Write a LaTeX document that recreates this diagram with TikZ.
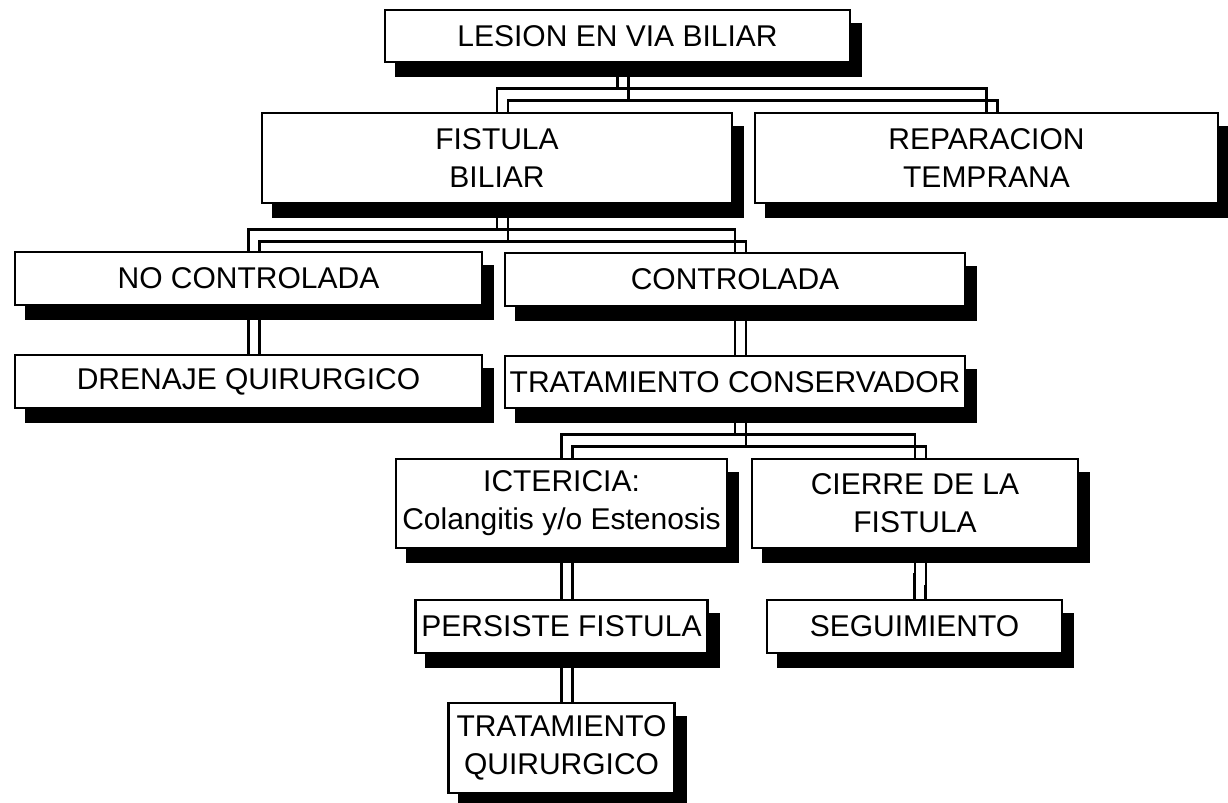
\documentclass[tikz,border=0pt]{standalone}
\usepackage{fontspec}
\setmainfont{Liberation Sans}
\usetikzlibrary{backgrounds}

\tikzset{
  caja/.style 2 args={draw, line width=2pt, fill=white, inner sep=0pt, align=center,
    minimum width=#1*0.75pt, minimum height=#2*0.75pt,
    font=\fontsize{22.5}{28.5}\selectfont},
  conector/.style={line width=1.9pt}
}
% parent to child: the line and its copy pushed right and down
\newcommand\enlace[2]{%
  \draw[conector] (#1.south) -- ++(0,25) -| (#2.north);
  \draw[conector] ([shift={(11,12)}]#1.south) -- ++(0,25) -| ([shift={(11,12)}]#2.north);
}

\begin{document}
\begin{tikzpicture}[x=0.75pt,y=0.75pt,yscale=-1,xscale=1]
\useasboundingbox (0,0) rectangle (1228,803);

% Text Node
\draw (617.5,36) node [caja={465}{52}] (lesion) {LESION EN VIA BILIAR};
% Text Node
\draw (497,158) node [caja={470}{90}] (fistula) {FISTULA\\BILIAR};
% Text Node
\draw (986.5,158) node [caja={463}{90}] (reparacion) {REPARACION\\TEMPRANA};
% Text Node
\draw (248.5,278.5) node [caja={467}{53}] (nocontrolada) {NO CONTROLADA};
% Text Node
\draw (735,279.5) node [caja={460}{53}] (controlada) {CONTROLADA};
% Text Node
\draw (248.5,381.5) node [caja={467}{53}] (drenaje) {DRENAJE QUIRURGICO};
% Text Node
\draw (735,382) node [caja={460}{52}] (conservador) {TRATAMIENTO CONSERVADOR};
% Text Node
\draw (561.5,503.5) node [caja={331}{89}] (ictericia) {ICTERICIA:\\Colangitis y/o Estenosis};
% Text Node
\draw (915,503.5) node [caja={326}{89}] (cierre) {CIERRE DE LA\\FISTULA};
% Text Node
\draw (561.5,626.5) node [caja={292}{53}] (persiste) {PERSISTE FISTULA};
% Text Node
\draw (914.5,626.5) node [caja={295}{53}] (seguimiento) {SEGUIMIENTO};
% Text Node
\draw (561.5,748) node [caja={226}{90}] (quirurgico) {TRATAMIENTO\\QUIRURGICO};

\begin{scope}[on background layer]
%Shapes: shadows
\foreach \n in {lesion,fistula,reparacion,nocontrolada,controlada,drenaje,
                conservador,ictericia,cierre,persiste,seguimiento,quirurgico}
  \fill ([shift={(11,14)}]\n.north west) rectangle ([shift={(11,14)}]\n.south east);

%Straight Lines
\enlace{lesion}{fistula}
\enlace{lesion}{reparacion}
\enlace{fistula}{nocontrolada}
\enlace{fistula}{controlada}
\enlace{nocontrolada}{drenaje}
\enlace{controlada}{conservador}
\enlace{conservador}{ictericia}
\enlace{conservador}{cierre}
\enlace{ictericia}{persiste}
\enlace{cierre}{seguimiento}
\enlace{persiste}{quirurgico}
\end{scope}

\end{tikzpicture}
\end{document}
